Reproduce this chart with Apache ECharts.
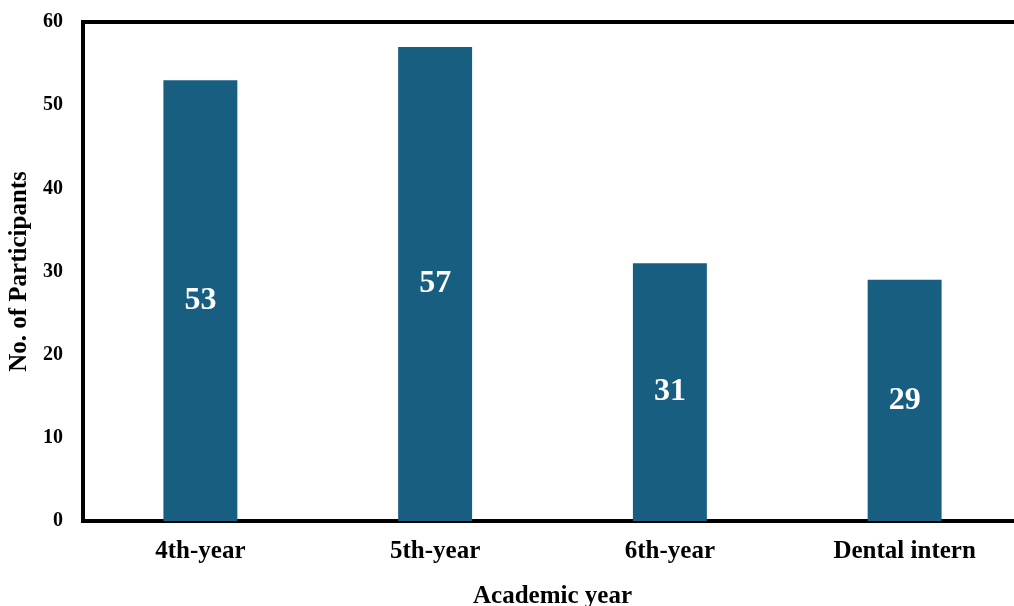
<!DOCTYPE html>
<html>
<head>
<meta charset="utf-8">
<script src="https://cdn.jsdelivr.net/npm/echarts@6/dist/echarts.min.js"></script>
<style>
html, body { margin: 0; padding: 0; background: #fff; }
#main { width: 1014px; height: 606px; }
</style>
</head>
<body>
<div id="main"></div>
<script>
var categories = ['4th-year', '5th-year', '6th-year', 'Dental intern'];
var participants = [53, 57, 31, 29];

var chart = echarts.init(document.getElementById('main'));
var font = '"Liberation Serif", "Times New Roman", serif';

chart.setOption({
	animation: false,
	grid: {
		left: 83,
		right: -8,
		top: 22,
		bottom: 85,
		outerBoundsMode: 'none',
		containLabel: false,
		show: true,
		borderColor: '#000',
		borderWidth: 4
	},
	xAxis: {
		type: 'category',
		data: categories,
		name: 'Academic year',
		nameLocation: 'middle',
		nameGap: 63,
		nameTextStyle: { fontFamily: font, fontWeight: 'bold', fontSize: 25, color: '#000' },
		axisLine: { lineStyle: { color: '#000', width: 4 } },
		axisTick: { show: false },
		axisLabel: { fontFamily: font, fontWeight: 'bold', fontSize: 25, color: '#000', margin: 18 }
	},
	yAxis: {
		type: 'value',
		min: 0,
		max: 60,
		interval: 10,
		name: 'No. of Participants',
		nameLocation: 'middle',
		nameGap: 47,
		nameTextStyle: { fontFamily: font, fontWeight: 'bold', fontSize: 25, color: '#000' },
		axisLine: { show: true, lineStyle: { color: '#000', width: 4 } },
		axisTick: { show: false },
		splitLine: { show: false },
		axisLabel: { fontFamily: font, fontWeight: 'bold', fontSize: 20, color: '#000', margin: 20 }
	},
	series: [{
		type: 'bar',
		data: participants,
		barWidth: '31.5%',
		itemStyle: { color: '#175e80' },
		label: {
			show: true,
			position: 'inside',
			fontFamily: font,
			fontWeight: 'bold',
			fontSize: 32,
			color: '#fff'
		}
	}]
});
</script>
</body>
</html>
